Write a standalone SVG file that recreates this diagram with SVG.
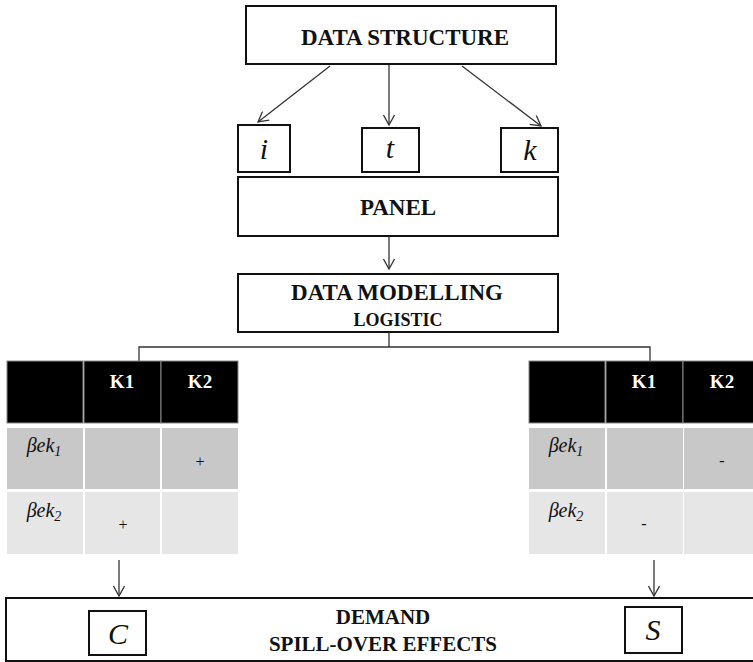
<svg xmlns="http://www.w3.org/2000/svg" width="753" height="662" viewBox="0 0 753 662">
<style>
.box{fill:#fff;stroke:#111;stroke-width:2}
.t{font-family:"Liberation Serif","Times New Roman",serif;fill:#111;text-anchor:middle}
.b{font-weight:bold}
.it{font-style:italic}
.w{fill:#fff}
.con{stroke:#333;stroke-width:1.3;fill:none}
.hd{fill:#000;stroke:#888;stroke-width:1}
.r1{fill:#c8c8c8}
.r2{fill:#e6e6e6}
</style>
<defs>
<marker id="arr" viewBox="0 0 12 12" refX="11" refY="6" markerWidth="12" markerHeight="12" markerUnits="userSpaceOnUse" orient="auto">
<path d="M1,0.5 L11,6 L1,11.5" fill="none" stroke="#333" stroke-width="1.3"/>
</marker>
</defs>
<rect width="753" height="662" fill="#fff"/>

<g id="connectors">
<line class="con" x1="330" y1="66" x2="258" y2="122" marker-end="url(#arr)"/>
<line class="con" x1="389" y1="65" x2="389" y2="125" marker-end="url(#arr)"/>
<line class="con" x1="462" y1="66" x2="541" y2="126" marker-end="url(#arr)"/>
<line class="con" x1="389" y1="237" x2="389" y2="269" marker-end="url(#arr)"/>
<polyline class="con" points="389,333 389,347"/>
<polyline class="con" points="139,361 139,347 650,347 650,361"/>
<line class="con" x1="119" y1="560" x2="119" y2="596" marker-end="url(#arr)"/>
<line class="con" x1="654" y1="560" x2="654" y2="596" marker-end="url(#arr)"/>
</g>

<g id="data-structure">
<rect class="box" x="246" y="6" width="310" height="58"/>
<text class="t b" x="405" y="45" font-size="23">DATA STRUCTURE</text>
</g>
<g id="node-i">
<rect class="box" x="238" y="125" width="52" height="47"/>
<text class="t it" x="264" y="159" font-size="30">i</text>
</g>
<g id="node-t">
<rect class="box" x="362" y="128" width="57" height="44"/>
<text class="t it" x="390" y="158" font-size="30">t</text>
</g>
<g id="node-k">
<rect class="box" x="501" y="128" width="57" height="44"/>
<text class="t it" x="530" y="160" font-size="30">k</text>
</g>
<g id="panel">
<rect class="box" x="238" y="177" width="320" height="59"/>
<text class="t b" x="398" y="215" font-size="23">PANEL</text>
</g>
<g id="data-modelling">
<rect class="box" x="238" y="274" width="320" height="58"/>
<text class="t b" x="397" y="300" font-size="23">DATA MODELLING</text>
<text class="t b" x="398" y="326" font-size="18">LOGISTIC</text>
</g>

<g id="table-left">
<rect class="hd" x="7" y="361" width="76" height="62"/>
<rect class="hd" x="84" y="361" width="77" height="62"/>
<rect class="hd" x="161" y="361" width="77" height="62"/>
<text class="t b w" x="122" y="388" font-size="19">K1</text>
<text class="t b w" x="200" y="388" font-size="19">K2</text>
<rect class="r1" x="7" y="428" width="76" height="61"/>
<rect class="r1" x="85" y="428" width="75" height="61"/>
<rect class="r1" x="162" y="428" width="76" height="61"/>
<rect class="r2" x="7" y="492" width="76" height="62"/>
<rect class="r2" x="85" y="492" width="75" height="62"/>
<rect class="r2" x="162" y="492" width="76" height="62"/>
<text class="t it" x="44" y="452" font-size="20">βek<tspan dy="4" font-size="14">1</tspan></text>
<text class="t it" x="44" y="517" font-size="20">βek<tspan dy="4" font-size="14">2</tspan></text>
<text class="t" x="200" y="467" font-size="16">+</text>
<text class="t" x="123" y="530" font-size="16">+</text>
</g>

<g id="table-right">
<rect class="hd" x="529" y="361" width="76" height="62"/>
<rect class="hd" x="606" y="361" width="77" height="62"/>
<rect class="hd" x="683" y="361" width="75" height="62"/>
<text class="t b w" x="644" y="388" font-size="19">K1</text>
<text class="t b w" x="722" y="388" font-size="19">K2</text>
<rect class="r1" x="529" y="428" width="76" height="61"/>
<rect class="r1" x="607" y="428" width="76" height="61"/>
<rect class="r1" x="684" y="428" width="74" height="61"/>
<rect class="r2" x="529" y="492" width="76" height="62"/>
<rect class="r2" x="607" y="492" width="76" height="62"/>
<rect class="r2" x="684" y="492" width="74" height="62"/>
<text class="t it" x="566" y="452" font-size="20">βek<tspan dy="4" font-size="14">1</tspan></text>
<text class="t it" x="566" y="517" font-size="20">βek<tspan dy="4" font-size="14">2</tspan></text>
<text class="t" x="722" y="466" font-size="16">-</text>
<text class="t" x="644" y="529" font-size="16">-</text>
</g>

<g id="demand">
<rect class="box" x="6" y="598" width="760" height="63"/>
<text class="t b" x="383" y="624" font-size="21">DEMAND</text>
<text class="t b" x="383" y="651" font-size="21">SPILL-OVER EFFECTS</text>
</g>
<g id="node-c">
<rect class="box" x="89" y="611" width="57" height="44"/>
<text class="t it" x="118" y="644" font-size="30">C</text>
</g>
<g id="node-s">
<rect class="box" x="625" y="607" width="57" height="46"/>
<text class="t it" x="653" y="640" font-size="30">S</text>
</g>
</svg>
